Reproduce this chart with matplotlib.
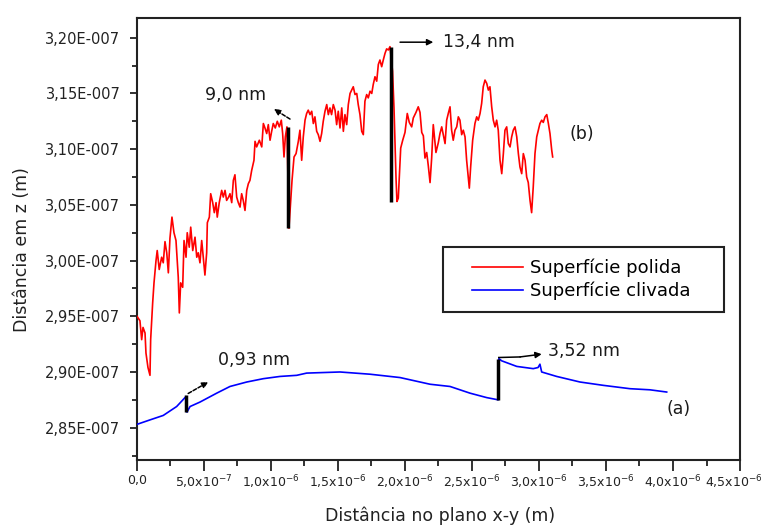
import matplotlib
matplotlib.use("Agg")
import matplotlib.pyplot as plt
import matplotlib.transforms as mtransforms
from matplotlib.ticker import FixedLocator, FuncFormatter, AutoMinorLocator
from matplotlib.lines import Line2D
from matplotlib.legend_handler import HandlerLine2D

plt.rcParams['font.family'] = ['DejaVu Sans']

# ---------------- data (x in micrometres, z in nanometres) ----------------
red_x_um = [0.000, 0.022, 0.035, 0.045, 0.060, 0.067, 0.082, 0.097, 0.102, 0.117,
            0.127, 0.142, 0.151, 0.166, 0.184, 0.196, 0.209, 0.222, 0.234, 0.246,
            0.261, 0.276, 0.291, 0.308, 0.316, 0.326, 0.341, 0.351, 0.366, 0.375,
            0.390, 0.401, 0.416, 0.433, 0.446, 0.457, 0.470, 0.483, 0.495, 0.507,
            0.520, 0.525, 0.540, 0.550, 0.565, 0.577, 0.590, 0.599, 0.614, 0.632,
            0.644, 0.657, 0.669, 0.684, 0.694, 0.707, 0.719, 0.731, 0.744, 0.756,
            0.769, 0.781, 0.793, 0.806, 0.819, 0.831, 0.843, 0.856, 0.873, 0.881,
            0.893, 0.913, 0.931, 0.943, 0.955, 0.968, 0.980, 0.993, 1.005, 1.017,
            1.032, 1.047, 1.062, 1.077, 1.087, 1.097, 1.107, 1.119, 1.134, 1.147,
            1.157, 1.172, 1.187, 1.204, 1.216, 1.229, 1.241, 1.254, 1.266, 1.278,
            1.291, 1.304, 1.316, 1.328, 1.341, 1.353, 1.366, 1.378, 1.390, 1.403,
            1.416, 1.428, 1.440, 1.452, 1.465, 1.478, 1.490, 1.502, 1.515, 1.528,
            1.540, 1.552, 1.565, 1.577, 1.590, 1.602, 1.614, 1.627, 1.640, 1.651,
            1.664, 1.677, 1.689, 1.701, 1.714, 1.726, 1.739, 1.752, 1.763, 1.776,
            1.789, 1.801, 1.813, 1.826, 1.838, 1.851, 1.863, 1.876, 1.888, 1.907,
            1.918, 1.933, 1.940, 1.950, 1.957, 1.968, 1.983, 2.000, 2.017, 2.032,
            2.050, 2.062, 2.082, 2.099, 2.112, 2.125, 2.137, 2.149, 2.162, 2.174,
            2.187, 2.199, 2.211, 2.231, 2.249, 2.261, 2.274, 2.299, 2.311, 2.323,
            2.336, 2.348, 2.360, 2.373, 2.386, 2.398, 2.410, 2.423, 2.435, 2.448,
            2.460, 2.472, 2.480, 2.490, 2.505, 2.522, 2.535, 2.547, 2.560, 2.572,
            2.584, 2.597, 2.610, 2.622, 2.634, 2.647, 2.659, 2.672, 2.684, 2.696,
            2.709, 2.722, 2.734, 2.746, 2.759, 2.771, 2.784, 2.796, 2.808, 2.821,
            2.834, 2.846, 2.858, 2.871, 2.883, 2.896, 2.908, 2.920, 2.933, 2.945,
            2.957, 2.970, 2.983, 2.995, 3.007, 3.020, 3.032, 3.045, 3.058, 3.070,
            3.082, 3.095, 3.102]
red_z_nm = [295.0, 294.6, 292.9, 294.0, 293.5, 291.7, 290.4, 289.7, 292.9, 296.2,
            298.0, 300.0, 300.9, 299.2, 300.3, 299.8, 301.7, 300.7, 298.9, 302.0,
            303.9, 302.5, 301.8, 298.5, 295.3, 298.0, 297.6, 301.8, 300.3, 302.5,
            301.2, 303.0, 300.9, 302.1, 300.3, 300.7, 299.8, 301.8, 300.3, 298.7,
            300.7, 303.4, 303.9, 306.0, 305.2, 304.3, 305.2, 303.9, 305.2, 306.3,
            305.7, 306.3, 305.4, 305.7, 306.0, 305.2, 307.2, 307.7, 305.7, 305.2,
            304.8, 306.0, 305.4, 304.5, 306.3, 306.9, 307.2, 308.1, 309.0, 310.7,
            310.2, 310.8, 310.2, 312.3, 311.9, 311.4, 312.2, 310.8, 311.6, 312.3,
            311.9, 312.5, 312.0, 312.6, 311.4, 309.3, 311.1, 312.0, 302.9, 305.4,
            307.2, 309.3, 309.6, 310.7, 311.7, 309.0, 311.1, 312.6, 313.2, 313.5,
            313.1, 313.4, 312.3, 312.9, 311.6, 311.3, 310.7, 311.4, 312.5, 313.4,
            314.0, 313.1, 313.7, 313.1, 314.0, 313.5, 312.2, 313.4, 311.9, 313.7,
            311.6, 313.1, 312.2, 314.0, 315.0, 315.3, 315.6, 314.9, 315.0, 314.0,
            313.1, 311.6, 311.3, 314.3, 314.9, 314.6, 315.2, 315.0, 315.8, 316.5,
            316.1, 317.6, 318.0, 317.4, 318.0, 318.6, 319.0, 318.9, 319.2, 317.0,
            313.7, 307.4, 305.3, 305.6, 307.4, 310.1, 310.8, 311.5, 313.2, 312.4,
            312.0, 312.8, 313.3, 313.8, 313.3, 311.5, 311.2, 309.2, 309.7, 308.5,
            307.0, 309.2, 312.2, 309.7, 310.6, 311.4, 312.0, 310.5, 312.6, 313.2,
            313.8, 311.7, 310.8, 311.7, 312.0, 312.9, 312.6, 311.3, 311.7, 311.1,
            309.0, 307.5, 306.5, 308.4, 310.8, 312.3, 312.9, 312.6, 313.2, 314.1,
            315.6, 316.2, 315.9, 315.3, 315.6, 313.8, 312.6, 312.0, 312.6, 311.7,
            309.0, 307.8, 309.6, 311.7, 312.0, 310.5, 310.2, 311.1, 311.7, 312.0,
            311.1, 309.6, 308.4, 307.8, 309.6, 309.0, 307.5, 307.0, 305.4, 304.3,
            306.6, 309.6, 311.1, 311.7, 312.3, 312.6, 312.4, 312.9, 313.1, 312.3,
            311.4, 309.9, 309.3]

blue_x_um = [0.000, 0.097, 0.196, 0.296, 0.366, 0.373, 0.396, 0.470, 0.595, 0.694,
             0.819, 0.943, 1.067, 1.192, 1.266, 1.515, 1.739, 1.963, 2.187, 2.336,
             2.485, 2.610, 2.696, 2.701, 2.722, 2.834, 2.957, 2.993, 3.007, 3.020,
             3.132, 3.306, 3.480, 3.679, 3.828, 3.953]
blue_z_nm = [285.3, 285.7, 286.1, 286.9, 287.8, 286.4, 286.9, 287.3, 288.1, 288.7,
             289.1, 289.4, 289.6, 289.7, 289.9, 290.0, 289.8, 289.5, 288.9, 288.7,
             288.1, 287.7, 287.5, 291.2, 291.0, 290.5, 290.3, 290.4, 290.7, 290.0,
             289.6, 289.1, 288.8, 288.5, 288.4, 288.2]

series_labels = ["Superfície polida", "Superfície clivada"]

# step markers (black vertical bars)
step_x_um = [1.129, 1.896, 0.366, 2.696]
step_top_nm = [312.0, 319.2, 287.9, 291.2]
step_bot_nm = [302.9, 305.3, 286.4, 287.5]

# annotation texts
ann_texts = ["9,0 nm", "13,4 nm", "0,93 nm", "3,52 nm"]
ann_text_x_um = [0.507, 2.284, 0.607, 3.07]
ann_text_z_nm = [314.9, 319.6, 291.05, 291.9]
arrow_tail = [(1.142, 312.7), (1.963, 319.6), (0.382, 288.07), (2.858, 291.35)]
arrow_head = [(1.022, 313.6), (2.211, 319.6), (0.532, 289.1), (3.02, 291.6)]
arrow_dashed = [True, False, True, False]
# extra elbow segment of the 3,52 nm arrow
elbow_x_um = [2.700, 2.858]
elbow_z_nm = [291.3, 291.35]

curve_tags = ["(b)", "(a)"]
curve_tag_x_um = [3.23, 3.955]
curve_tag_z_nm = [311.4, 286.66]

x_ticks_um = [0.0, 0.5, 1.0, 1.5, 2.0, 2.5, 3.0, 3.5, 4.0, 4.5]
x_tick_labels = ["0,0", "5,0x10$^{-7}$", "1,0x10$^{-6}$", "1,5x10$^{-6}$", "2,0x10$^{-6}$",
                 "2,5x10$^{-6}$", "3,0x10$^{-6}$", "3,5x10$^{-6}$", "4,0x10$^{-6}$", "4,5x10$^{-6}$"]
y_ticks_nm = [285, 290, 295, 300, 305, 310, 315, 320]

UM = 1e-6
NM = 1e-9

# ---------------- figure ----------------
fig = plt.figure(figsize=(7.67, 5.25), dpi=100)
ax = fig.add_axes([0.1786, 0.1238, 0.7862, 0.8419])

ax.plot([v * UM for v in red_x_um], [v * NM for v in red_z_nm], color='#ff0000', lw=1.2,
        label=series_labels[0], zorder=3)
ax.plot([v * UM for v in blue_x_um], [v * NM for v in blue_z_nm], color='#0000ff', lw=1.2,
        label=series_labels[1], zorder=3)

for xs, zt, zb in zip(step_x_um, step_top_nm, step_bot_nm):
    ax.plot([xs * UM, xs * UM], [zt * NM, zb * NM], color='black', lw=2.5,
            solid_capstyle='butt', zorder=4)

ax.plot([v * UM for v in elbow_x_um], [v * NM for v in elbow_z_nm], color='black', lw=1.1, zorder=4)
for (tx, tz), (hx, hz), dashed in zip(arrow_tail, arrow_head, arrow_dashed):
    ax.annotate("", xy=(hx * UM, hz * NM), xytext=(tx * UM, tz * NM),
                arrowprops=dict(arrowstyle='-|>', color='black', lw=1.1,
                                mutation_scale=9, shrinkA=0, shrinkB=0,
                                linestyle=(0, (2.5, 1.2)) if dashed else '-'),
                zorder=4)

for t, x, z in zip(ann_texts, ann_text_x_um, ann_text_z_nm):
    ax.text(x * UM, z * NM, t, fontsize=12.5, color='#1a1a1a', ha='left', va='center')
for t, x, z in zip(curve_tags, curve_tag_x_um, curve_tag_z_nm):
    ax.text(x * UM, z * NM, t, fontsize=12.5, color='#1a1a1a', ha='left', va='center')

# axes limits and ticks
ax.set_xlim(0, 4.5 * UM)
ax.set_ylim(282.1 * NM, 321.77 * NM)
ax.xaxis.set_major_locator(FixedLocator([v * UM for v in x_ticks_um]))
ax.set_xticklabels(x_tick_labels)
ax.xaxis.set_minor_locator(AutoMinorLocator(2))
ax.yaxis.set_major_locator(FixedLocator([v * NM for v in y_ticks_nm]))
ax.yaxis.set_major_formatter(FuncFormatter(lambda v, p: f"{v * 1e7:.2f}".replace('.', ',') + "E-007"))
ax.yaxis.set_minor_locator(AutoMinorLocator(2))

ax.tick_params(axis='x', which='major', direction='out', length=8, width=1.3,
               labelsize=9, pad=2, colors='#222222')
ax.tick_params(axis='x', which='minor', direction='out', length=4.5, width=1.3, colors='#222222')
ax.tick_params(axis='y', which='major', direction='out', length=5, width=1.3,
               labelsize=10.5, pad=7, colors='#222222')
ax.tick_params(axis='y', which='minor', direction='out', length=3.5, width=1.3, colors='#222222')
ax.tick_params(top=False, right=False)
for s in ax.spines.values():
    s.set_linewidth(1.5)
    s.set_color('#222222')

# keep the last x tick label inside the canvas
last_lbl = ax.get_xticklabels()[-1]
last_lbl.set_transform(last_lbl.get_transform() +
                       mtransforms.ScaledTranslation(-6 / 100, 0, fig.dpi_scale_trans))

ax.set_xlabel("Distância no plano x-y (m)", fontsize=12.5, color='#222222')
ax.set_ylabel("Distância em z (m)", fontsize=12.5, color='#222222')
ax.xaxis.set_label_coords(0.502, -0.106)
ax.yaxis.set_label_coords(-0.175, 0.475)

leg = ax.legend(loc='upper left', bbox_to_anchor=(0.5075, 0.3326, 0.466, 0.1493),
                mode='expand', borderaxespad=0,
                fontsize=13, frameon=True, fancybox=False, shadow=False,
                borderpad=0.65, handlelength=3.8, handletextpad=0.37, labelspacing=0.25,
                handler_map={Line2D: HandlerLine2D(xpad=0.93)})
leg.get_frame().set_edgecolor('#222222')
leg.get_frame().set_linewidth(1.5)
leg.get_frame().set_alpha(1)

fig.savefig("out.png", dpi=100)
